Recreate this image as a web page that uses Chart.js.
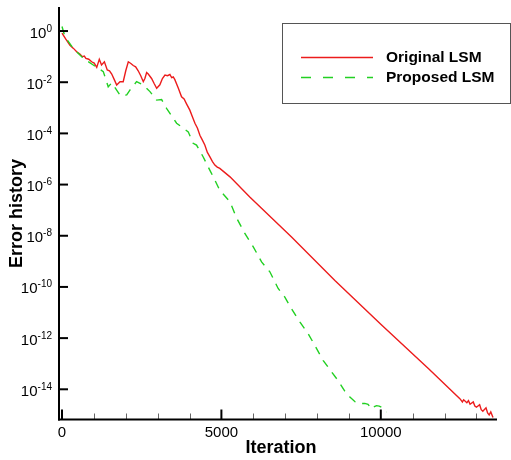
<!DOCTYPE html>
<html>
<head>
<meta charset="utf-8">
<script src="https://cdn.jsdelivr.net/npm/chart.js@4.4.0/dist/chart.umd.min.js"></script>
<style>
html, body { margin: 0; padding: 0; background: #fff; }
</style>
</head>
<body>
<canvas id="myChart" width="511" height="460"></canvas>
<script>
// Original LSM
const origIter = [0, 120, 250, 360, 460, 560, 640, 700, 750, 840, 930, 1010, 1090, 1170, 1240, 1330, 1420, 1490, 1560, 1640, 1715, 1820, 1920, 2000, 2080, 2160, 2235, 2310, 2390, 2470, 2550, 2600, 2655, 2705, 2810, 2890, 2970, 3070, 3150, 3230, 3310, 3385, 3440, 3490, 3540, 3650, 3750, 3830, 3910, 4010, 4090, 4170, 4250, 4325, 4400, 4480, 4560, 4640, 4720, 4795, 4870, 4950, 5270, 5890, 7200, 8560, 10000, 11500, 12480, 12560, 12600, 12700, 12750, 12800, 12900, 12950, 13000, 13100, 13150, 13200, 13300, 13350, 13400, 13450, 13520];
const origErr = [8.3e-1, 4.8e-1, 2.8e-1, 2.1e-1, 1.55e-1, 1.26e-1, 1.0e-1, 1.05e-1, 8.5e-2, 7.9e-2, 6.3e-2, 5.6e-2, 3.8e-2, 7.9e-2, 4.7e-2, 6.3e-2, 3.0e-2, 2.8e-2, 2.1e-2, 1.26e-2, 7.8e-3, 1.05e-2, 1.05e-2, 2.8e-2, 6.3e-2, 5.4e-2, 4.5e-2, 4.0e-2, 2.8e-2, 1.8e-2, 1.05e-2, 1.4e-2, 2.4e-2, 2.1e-2, 1.4e-2, 8.9e-3, 5.8e-3, 7.9e-3, 1.4e-2, 1.9e-2, 1.8e-2, 2.0e-2, 1.5e-2, 1.6e-2, 1.26e-2, 5.8e-3, 2.7e-3, 2.2e-3, 1.4e-3, 8.1e-4, 4.5e-4, 2.5e-4, 1.6e-4, 8.5e-5, 5.6e-5, 3.5e-5, 1.8e-5, 1.2e-5, 7.9e-6, 5.8e-6, 4.8e-6, 4.3e-6, 2.0e-6, 3.3e-7, 8.9e-9, 1.8e-10, 3.5e-12, 6.3e-14, 4.3e-15, 3.2e-15, 3.9e-15, 3.0e-15, 3.6e-15, 2.6e-15, 3.2e-15, 2.2e-15, 2.0e-15, 2.5e-15, 1.6e-15, 1.4e-15, 1.9e-15, 1.2e-15, 1.0e-15, 1.3e-15, 7.9e-16];

// Proposed LSM
const propIter = [0, 94, 355, 670, 980, 1295, 1450, 1560, 1715, 1840, 2030, 2130, 2340, 2550, 2760, 2970, 3125, 3280, 3490, 3595, 3805, 3960, 4115, 4220, 4430, 4640, 4745, 4950, 5270, 5475, 5735, 6000, 6260, 6520, 6780, 6990, 7200, 7460, 7720, 7930, 8190, 8455, 8660, 8870, 9030, 9200, 9340, 9500, 9600, 9710, 9800, 9865, 9950, 10020, 10100, 10180];
const propErr = [1.5, 6.0e-1, 2.1e-1, 8.5e-2, 4.7e-2, 2.6e-2, 6.6e-3, 9.5e-3, 4.9e-3, 2.9e-3, 3.2e-3, 4.9e-3, 1.05e-2, 7.8e-3, 4.3e-3, 2.0e-3, 2.1e-3, 9.5e-4, 3.9e-4, 2.5e-4, 1.6e-4, 1.15e-4, 4.1e-5, 3.5e-5, 1.2e-5, 3.6e-6, 2.0e-6, 6.0e-7, 2.1e-7, 5.0e-8, 1.23e-8, 3.7e-9, 9.5e-10, 3.9e-10, 8.7e-11, 4.0e-11, 1.4e-11, 4.3e-12, 1.5e-12, 5.2e-13, 1.35e-13, 4.8e-14, 2.2e-14, 8.5e-15, 5.0e-15, 3.2e-15, 2.8e-15, 2.8e-15, 2.6e-15, 1.7e-15, 2.1e-15, 2.3e-15, 2.2e-15, 2.0e-15, 1.7e-15, 1.3e-15];

// tick labels
const yTickExp = [0, -2, -4, -6, -8, -10, -12, -14];
const xMajorTicks = [0, 5000, 10000];
const xMinorTicks = [1000, 2000, 3000, 4000, 6000, 7000, 8000, 9000, 11000, 12000, 13000];

const RED = '#ec1c1c';
const GREEN = '#22d022';
const FONT = '"Liberation Sans", Arial, sans-serif';

function toPoints(xs, ys) {
    return xs.map((x, i) => ({ x: x, y: ys[i] }));
}

const tecplotAxes = {
    id: 'tecplotAxes',
    afterDraw(chart) {
        const ctx = chart.ctx;
        const a = chart.chartArea;
        const xs = chart.scales.x;
        const ys = chart.scales.y;

        function line(x1, y1, x2, y2) {
            ctx.beginPath();
            ctx.moveTo(x1, y1);
            ctx.lineTo(x2, y2);
            ctx.stroke();
        }

        ctx.save();

        // minor ticks on x
        ctx.strokeStyle = '#666';
        ctx.lineWidth = 1;
        xMinorTicks.forEach(v => {
            const px = Math.round(xs.getPixelForValue(v)) + 0.5;
            line(px, a.bottom, px, a.bottom - 6);
        });

        // major ticks
        ctx.strokeStyle = '#000';
        ctx.lineWidth = 2;
        xMajorTicks.forEach(v => {
            const px = xs.getPixelForValue(v);
            line(px, a.bottom, px, a.bottom - 10);
        });
        yTickExp.forEach(e => {
            const py = ys.getPixelForValue(Math.pow(10, e));
            line(a.left, py, a.left + 9, py);
        });

        // axis lines
        line(a.left, a.top, a.left, a.bottom + 1);
        line(a.left - 1, a.bottom, a.right, a.bottom);

        // tick labels
        ctx.fillStyle = '#000';
        ctx.font = '15px ' + FONT;
        ctx.textAlign = 'center';
        ctx.textBaseline = 'alphabetic';
        xMajorTicks.forEach(v => {
            ctx.fillText(String(v), xs.getPixelForValue(v), a.bottom + 17);
        });

        yTickExp.forEach(e => {
            const py = ys.getPixelForValue(Math.pow(10, e));
            const right = 52;
            ctx.font = '10px ' + FONT;
            const ew = ctx.measureText(String(e)).width;
            ctx.textAlign = 'left';
            ctx.fillText(String(e), right - ew, py + 0.5);
            ctx.font = '15px ' + FONT;
            ctx.textAlign = 'right';
            ctx.fillText('10', right - ew, py + 6.5);
        });

        // axis titles
        ctx.font = 'bold 18px ' + FONT;
        ctx.textAlign = 'center';
        ctx.fillText('Iteration', 281, 453);
        ctx.save();
        ctx.translate(21.5, 213.5);
        ctx.rotate(-Math.PI / 2);
        ctx.fillText('Error history', 0, 0);
        ctx.restore();

        // legend box
        ctx.strokeStyle = '#555';
        ctx.lineWidth = 1;
        ctx.strokeRect(282.5, 23.5, 228, 80);

        ctx.strokeStyle = RED;
        ctx.lineWidth = 1.4;
        line(301, 57.5, 373, 57.5);
        ctx.strokeStyle = GREEN;
        ctx.lineWidth = 1.4;
        ctx.setLineDash([10, 12]);
        line(301, 77.5, 373, 77.5);
        ctx.setLineDash([]);

        ctx.fillStyle = '#000';
        ctx.font = 'bold 15.5px ' + FONT;
        ctx.textAlign = 'left';
        ctx.textBaseline = 'middle';
        ctx.fillText('Original LSM', 386, 57.5);
        ctx.fillText('Proposed LSM', 386, 77.5);

        ctx.restore();
    }
};

new Chart(document.getElementById('myChart'), {
    type: 'line',
    data: {
        datasets: [
            {
                label: 'Original LSM',
                data: toPoints(origIter, origErr),
                borderColor: RED,
                borderWidth: 1.4,
                pointRadius: 0,
                tension: 0,
                order: 2
            },
            {
                label: 'Proposed LSM',
                data: toPoints(propIter, propErr),
                borderColor: GREEN,
                borderWidth: 1.4,
                borderDash: [8, 7],
                pointRadius: 0,
                tension: 0,
                order: 1
            }
        ]
    },
    options: {
        responsive: false,
        animation: false,
        devicePixelRatio: 1,
        layout: {
            padding: { left: 59, top: 7, right: 14, bottom: 40.5 }
        },
        plugins: {
            legend: { display: false },
            tooltip: { enabled: false }
        },
        scales: {
            x: {
                type: 'linear',
                min: -94,
                max: 13645,
                display: false
            },
            y: {
                type: 'logarithmic',
                min: 6.6e-16,
                max: 8.7,
                display: false
            }
        }
    },
    plugins: [tecplotAxes]
});
</script>
</body>
</html>
